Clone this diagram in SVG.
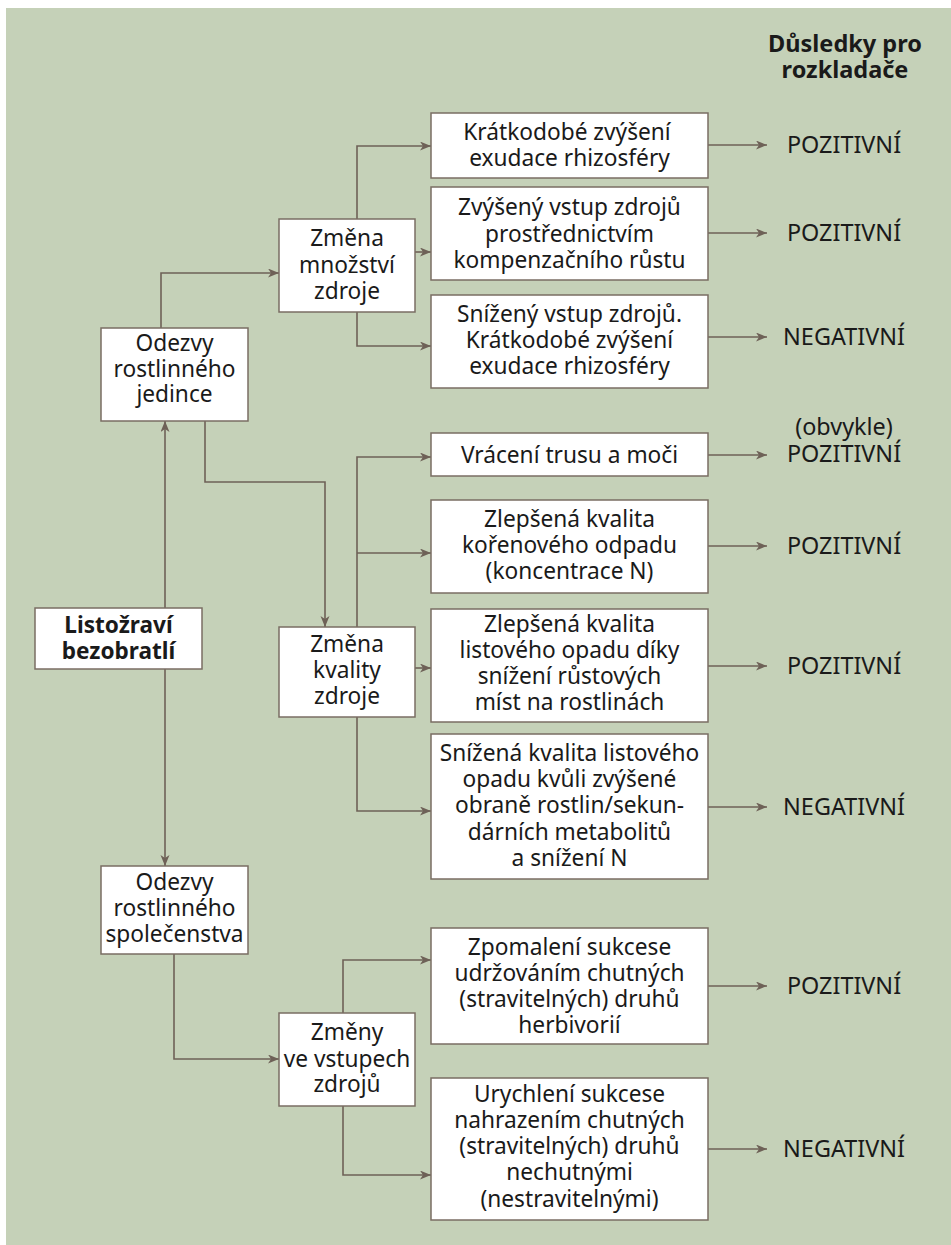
<svg xmlns="http://www.w3.org/2000/svg" width="951" height="1245" viewBox="0 0 951 1245">
<defs>
<marker id="ah" markerWidth="12" markerHeight="10" refX="11" refY="4.5" orient="auto" markerUnits="userSpaceOnUse">
<path d="M0,0 L11,4.5 L0,9 L3,4.5 Z" fill="#6e6157"/>
</marker>
</defs>
<style>
.box{fill:#fff;stroke:#7a6d63;stroke-width:1.5}
.c{fill:none;stroke:#6e6157;stroke-width:1.6;marker-end:url(#ah)}
text{font-family:"Noto Sans","Open Sans","DejaVu Sans",sans-serif;font-size:22.7px;fill:#1a1a1a;text-anchor:middle}
.b{font-weight:bold}
.lb{font-weight:bold;font-size:22.6px}
.h{font-weight:bold;font-size:23.5px}
.o{font-size:23.4px}
</style>
<rect x="6" y="8" width="945" height="1237" fill="#c5d1b8"/>
<g id="header"><text class="h" x="845" y="52">Důsledky pro</text><text class="h" x="845" y="78">rozkladače</text></g>

<g id="connectors">
<path class="c" d="M161,328 V273 H279"/>
<path class="c" d="M357,219 V146 H431"/>
<path class="c" d="M415,252 H431"/>
<path class="c" d="M357,312 V346 H431"/>
<path class="c" d="M165,608 V421"/>
<path class="c" d="M165,669 V866"/>
<path class="c" d="M205,421 V482 H325 V627"/>
<path class="c" d="M357,627 V457 H431"/>
<path class="c" d="M357,553 H431"/>
<path class="c" d="M415,668 H431"/>
<path class="c" d="M357,717 V811 H431"/>
<path class="c" d="M174,954 V1059 H279"/>
<path class="c" d="M343,1013 V960 H431"/>
<path class="c" d="M343,1106 V1175 H431"/>
<path class="c" d="M708,145 H767"/>
<path class="c" d="M708,233 H767"/>
<path class="c" d="M708,337 H767"/>
<path class="c" d="M708,455 H767"/>
<path class="c" d="M708,546 H767"/>
<path class="c" d="M708,666 H767"/>
<path class="c" d="M708,807 H767"/>
<path class="c" d="M708,986 H767"/>
<path class="c" d="M708,1149 H767"/>
</g>

<g id="n-odezvy-jedince"><rect class="box" x="101" y="328" width="147" height="93"/>
<text x="174.5" y="351">Odezvy</text><text x="174.5" y="377">rostlinného</text><text x="174.5" y="402">jedince</text></g>

<g id="n-zmena-mnozstvi"><rect class="box" x="279" y="219" width="136" height="93"/>
<text x="347" y="246">Změna</text><text x="347" y="272.5">množství</text><text x="347" y="298.5">zdroje</text></g>

<g id="n-kratkodobe"><rect class="box" x="431" y="113" width="277" height="65"/>
<text x="567" y="139.5">Krátkodobé zvýšení</text><text x="569.5" y="165.5">exudace rhizosféry</text></g>

<g id="n-zvyseny"><rect class="box" x="431" y="187" width="277" height="93"/>
<text x="569.5" y="215">Zvýšený vstup zdrojů</text><text x="569.5" y="241.5">prostřednictvím</text><text x="569.5" y="267.5">kompenzačního růstu</text></g>

<g id="n-snizeny"><rect class="box" x="431" y="295" width="277" height="93"/>
<text x="569.5" y="321.5">Snížený vstup zdrojů.</text><text x="569.5" y="348">Krátkodobé zvýšení</text><text x="569.5" y="374">exudace rhizosféry</text></g>

<g id="n-vraceni"><rect class="box" x="431" y="433" width="277" height="43"/>
<text x="569.5" y="462.5">Vrácení trusu a moči</text></g>

<g id="n-korenovy"><rect class="box" x="431" y="500" width="277" height="93"/>
<text x="569.5" y="526.5">Zlepšená kvalita</text><text x="569.5" y="552.5">kořenového odpadu</text><text x="569.5" y="578.5">(koncentrace N)</text></g>

<g id="n-listovy"><rect class="box" x="431" y="609" width="277" height="113"/>
<text x="569.5" y="631.5">Zlepšená kvalita</text><text x="569.5" y="658">listového opadu díky</text><text x="569.5" y="684">snížení růstových</text><text x="569.5" y="710">míst na rostlinách</text></g>

<g id="n-snizena"><rect class="box" x="431" y="734" width="277" height="145"/>
<text x="569.5" y="760.5">Snížená kvalita listového</text><text x="569.5" y="787">opadu kvůli zvýšené</text><text x="569.5" y="813">obraně rostlin/sekun-</text><text x="569.5" y="840">dárních metabolitů</text><text x="569.5" y="866">a snížení N</text></g>

<g id="n-listozravi"><rect class="box" x="35" y="608" width="167" height="61"/>
<text class="lb" x="118.5" y="632.5">Listožraví</text><text class="lb" x="118.5" y="658.5">bezobratlí</text></g>

<g id="n-zmena-kvality"><rect class="box" x="279" y="627" width="136" height="90"/>
<text x="347" y="651.5">Změna</text><text x="347" y="677.5">kvality</text><text x="347" y="704">zdroje</text></g>

<g id="n-odezvy-spol"><rect class="box" x="101" y="866" width="147" height="88"/>
<text x="174.5" y="889.5">Odezvy</text><text x="174.5" y="916">rostlinného</text><text x="174.5" y="941.5">společenstva</text></g>

<g id="n-zmeny-vstupy"><rect class="box" x="279" y="1013" width="136" height="93"/>
<text x="347" y="1040">Změny</text><text x="347" y="1066.5">ve vstupech</text><text x="347" y="1091.5">zdrojů</text></g>

<g id="n-zpomaleni"><rect class="box" x="431" y="928" width="277" height="116"/>
<text x="569.5" y="954.5">Zpomalení sukcese</text><text x="569.5" y="980.5">udržováním chutných</text><text x="569.5" y="1006.5">(stravitelných) druhů</text><text x="569.5" y="1032.5">herbivorií</text></g>

<g id="n-urychleni"><rect class="box" x="431" y="1078" width="277" height="142"/>
<text x="569.5" y="1101.5">Urychlení sukcese</text><text x="569.5" y="1128">nahrazením chutných</text><text x="569.5" y="1154">(stravitelných) druhů</text><text x="569.5" y="1180">nechutnými</text><text x="569.5" y="1206.5">(nestravitelnými)</text></g>

<g id="outcomes">
<text class="o" x="844" y="153">POZITIVNÍ</text>
<text class="o" x="844" y="241">POZITIVNÍ</text>
<text class="o" x="844" y="345">NEGATIVNÍ</text>
<text class="o" x="844" y="435">(obvykle)</text>
<text class="o" x="844" y="462">POZITIVNÍ</text>
<text class="o" x="844" y="554">POZITIVNÍ</text>
<text class="o" x="844" y="674">POZITIVNÍ</text>
<text class="o" x="844" y="815">NEGATIVNÍ</text>
<text class="o" x="844" y="994">POZITIVNÍ</text>
<text class="o" x="844" y="1157">NEGATIVNÍ</text>
</g>
</svg>
